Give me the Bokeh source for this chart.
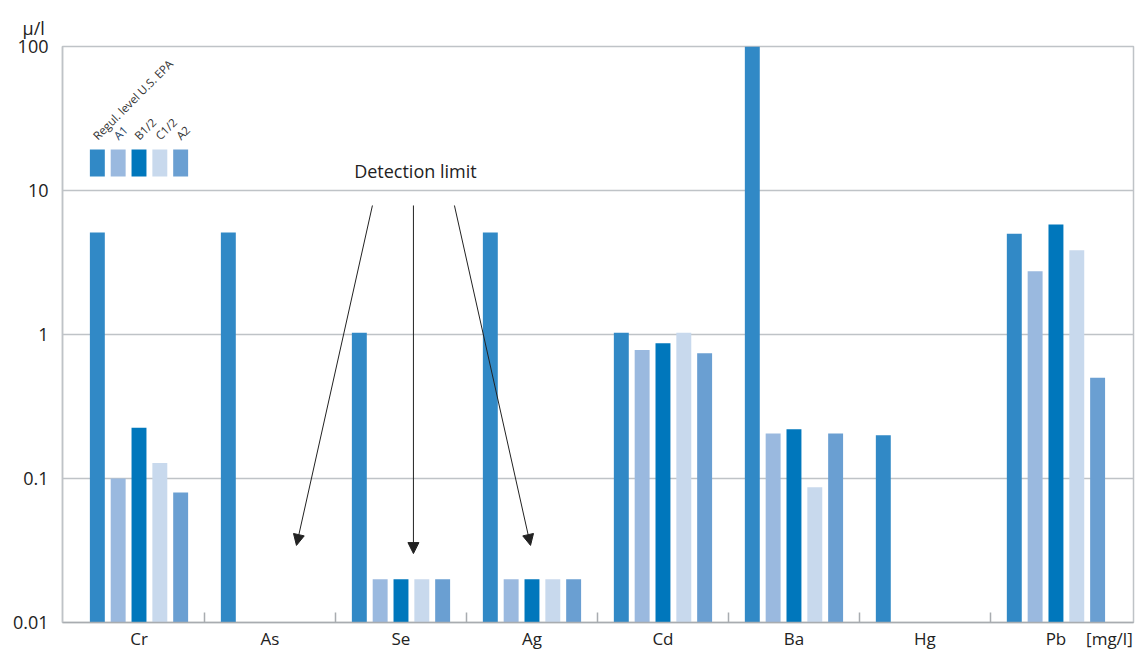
import math
from bokeh.plotting import figure
from bokeh.models import (Range1d, FixedTicker, CustomJSTickFormatter, Label, Arrow,
                          NormalHead, ColumnDataSource, Title)
from bokeh.embed import file_html
from bokeh.resources import INLINE

# ---------------- data ----------------
elements = ["Cr", "As", "Se", "Ag", "Cd", "Ba", "Hg", "Pb"]
series = ["Regul. level U.S. EPA", "A1", "B1/2", "C1/2", "A2"]
epa = [5.1, 5.1, 1.03, 5.1, 1.03, 100, 0.2, 5.0]
a1 = [0.1, None, 0.02, 0.02, 0.78, 0.205, None, 2.75]
b12 = [0.225, None, 0.02, 0.02, 0.87, 0.22, None, 5.8]
c12 = [0.128, None, 0.02, 0.02, 1.03, 0.087, None, 3.85]
a2 = [0.08, None, 0.02, 0.02, 0.74, 0.205, None, 0.5]
y_ticks = [0.01, 0.1, 1, 10, 100]
y_tick_labels = ["0.01", "0.1", "1", "10", "100"]
unit_x = "[mg/l]"
unit_y = "µ/l"
note = "Detection limit"

values = [epa, a1, b12, c12, a2]
colors = ["#3189C6", "#9AB9DF", "#0077BC", "#C8D9ED", "#6A9FD2"]
label_colors = ["#333333", "#1E3F66", "#333333", "#333333", "#333333"]
offsets = [-0.318, -0.159, 0.0, 0.159, 0.318]
bar_w = 0.114
FONT = "Open Sans"

p = figure(width=1142, height=656, y_axis_type="log",
           x_range=Range1d(-0.584, 7.592), y_range=Range1d(0.01, 100),
           output_backend="svg", toolbar_location=None,
           min_border_left=62, min_border_top=46, min_border_right=9, min_border_bottom=34)
p.background_fill_color = "white"
p.outline_line_color = "#BFC3C7"
p.outline_line_width = 1.5

# unit of the y axis, shown top-left as a title
p.add_layout(Title(text=unit_y, align="left", offset=-40, standoff=14,
                   text_font=FONT, text_font_size="18px", text_font_style="normal",
                   text_color="#222222"), "above")

# bars
for j, vals in enumerate(values):
    xs = [i + offsets[j] for i, v in enumerate(vals) if v is not None]
    tops = [v for v in vals if v is not None]
    src = ColumnDataSource(dict(x=xs, top=tops))
    p.vbar(x="x", top="top", bottom=0.01, width=bar_w, source=src,
           fill_color=colors[j], line_color=None)

# legend swatches (over the first group)
leg = ColumnDataSource(dict(left=[o - bar_w / 2 for o in offsets],
                            right=[o + bar_w / 2 for o in offsets],
                            bottom=[12.5] * 5, top=[19.3] * 5, color=colors))
p.quad(left="left", right="right", bottom="bottom", top="top", fill_color="color",
       line_color=None, source=leg)
for j, name in enumerate(series):
    p.add_layout(Label(x=offsets[j] - 0.02, y=23.3, text=name, angle=math.pi / 4,
                       text_font=FONT, text_font_size="11.5px", text_color=label_colors[j],
                       text_baseline="alphabetic", text_align="left"))

# x axis
x_ticks = list(range(len(elements))) + [7.408]
x_names = elements + [unit_x]
xa = p.xaxis[0]
xa.ticker = FixedTicker(ticks=x_ticks, minor_ticks=[i + 0.5 for i in range(len(elements) - 1)])
xa.formatter = CustomJSTickFormatter(args=dict(tvals=x_ticks, names=x_names),
                                     code="const i = tvals.indexOf(tick); return i >= 0 ? names[i] : '';")
xa.major_tick_line_color = None
xa.major_tick_in = 0
xa.major_tick_out = 0
xa.minor_tick_in = 10
xa.minor_tick_out = 0
xa.minor_tick_line_color = "#A8ACB0"
xa.minor_tick_line_width = 1.5
xa.axis_line_color = "#A8ACB0"
xa.axis_line_width = 1.5
xa.major_label_text_font = FONT
xa.major_label_text_font_size = "17px"
xa.major_label_text_color = "#222222"
xa.major_label_standoff = 4

# y axis
ya = p.yaxis[0]
ya.ticker = FixedTicker(ticks=y_ticks, minor_ticks=[])
ya.formatter = CustomJSTickFormatter(args=dict(names=y_tick_labels), code="return names[index];")
ya.major_tick_line_color = None
ya.major_tick_in = 0
ya.major_tick_out = 0
ya.minor_tick_line_color = None
ya.axis_line_color = "#BFC3C7"
ya.axis_line_width = 1.5
ya.major_label_text_font = FONT
ya.major_label_text_font_size = "18px"
ya.major_label_text_color = "#222222"
ya.major_label_standoff = 14

p.xgrid.visible = False
p.ygrid.ticker = FixedTicker(ticks=y_ticks, minor_ticks=[])
p.ygrid.grid_line_color = "#BFC3C7"
p.ygrid.grid_line_width = 1.5

# detection-limit annotation
p.add_layout(Label(x=2.11, y=13.6, text=note, text_font=FONT, text_font_size="18px",
                   text_color="#222222", text_align="center", text_baseline="middle"))
arrows = [(1.782, 7.87, 1.202, 0.0343), (2.095, 7.87, 2.095, 0.0301), (2.408, 7.87, 2.989, 0.0343)]
for xs_, ys_, xe, ye in arrows:
    p.add_layout(Arrow(x_start=xs_, y_start=ys_, x_end=xe, y_end=ye, line_color="#222222",
                       line_width=1,
                       end=NormalHead(size=11, fill_color="#222222", line_color="#222222")))

open("out.html", "w").write(file_html(p, INLINE))
